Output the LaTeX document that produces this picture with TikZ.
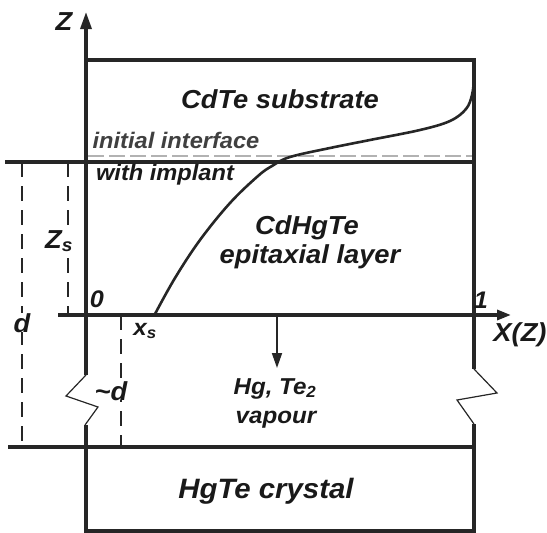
\documentclass[tikz,border=0pt]{standalone}
\usepackage{fontspec}
\setmainfont{Liberation Sans}[FakeStretch=1.05]
\usetikzlibrary{arrows.meta}
\newcommand{\lblfont}[1]{\fontsize{#1}{#1}\selectfont\bfseries\itshape}

\begin{document}
\begin{tikzpicture}[x=1pt, y=-1pt,
        >={Triangle[length=17pt, width=11pt]},
        lbl/.style={font=\lblfont{#1}, text=black!90, inner sep=0pt, anchor=base},
        wall/.style={line width=3.2pt, draw=black!85},
        brk/.style={line width=1.2pt, draw=black!85},
        dim/.style={line width=2.2pt, draw=black!85, dash pattern=on 15pt off 9pt},
        iface/.style={line width=2.5pt, draw=gray!60, dash pattern=on 16pt off 5pt},
    ]
    \useasboundingbox (0,0) rectangle (547,533);
    \coordinate (ztip) at (86,12);
    \coordinate (xstart) at (58,315);
    \coordinate (xtip) at (511,315);
    \coordinate (flux) at (277,315);
    \coordinate (vtip) at (277,368);

    \draw[iface] (88,156) -- (474,156);
    \draw[dim] (22,162) -- (22,447);
    \draw[dim] (68,162) -- (68,315);
    \draw[dim] (121,315) -- (121,447);

    \draw[wall, ->] (86,375) -- (ztip);
    \draw[wall] (86,60) -- (474,60) -- (474,369);
    \draw[brk] (86,375) -- (66,396) -- (98,407) -- (85,425);
    \draw[brk] (474,369) -- (497,393) -- (457,400) -- (474,424);
    \draw[wall] (86,425) -- (86,531) -- (474,531) -- (474,424);
    \draw[wall] (8,447) -- (474,447);
    \draw[wall] (5,162) -- (474,162);
    \draw[wall, ->, >={Triangle[length=14pt, width=10pt]}] (xstart) -- (xtip);

    \draw[line width=2.6pt, black!85] plot[smooth, tension=0.6] coordinates
        {(155,314) (175,278) (200,240) (230,203) (258,176) (272,166) (290,157)
         (330,148) (370,140) (420,130) (450,121) (466,109) (472,95) (474,80)};

    \node[lbl=26] (zlab) at (64,30) {Z};
    \node[lbl=26] (subs) at (280,108) {CdTe substrate};
    \node[lbl=22.5, text=black!75] (init) at (176,148) {initial interface};
    \node[lbl=22.5] (impl) at (165,180) {with implant};
    \node[lbl=26] (epi1) at (307,234) {CdHgTe};
    \node[lbl=26] (epi2) at (310,263) {epitaxial layer};
    \node[lbl=26, fill=white] (zs) at (59,248) {Z\textsubscript{s}};
    \node[lbl=24] (zero) at (97,307) {0};
    \node[lbl=24] (one) at (481,308) {1};
    \node[lbl=26] (xz) at (520,341) {X(Z)};
    \node[lbl=23] (xs) at (145,335) {x\textsubscript{s}};
    \node[lbl=26, fill=white] (dlab) at (22,332) {d};
    \node[lbl=26, fill=white] (dtil) at (111,400) {\textasciitilde d};
    \node[lbl=23] (vap1) at (275,394) {Hg, Te\textsubscript{2}};
    \node[lbl=23] (vap2) at (276,423) {vapour};
    \node[lbl=28] (hgte) at (266,498) {HgTe crystal};

    \draw[line width=1.8pt, black!85, ->, >={Triangle[length=15pt, width=10pt]}] (flux) -- (vtip);
\end{tikzpicture}
\end{document}
